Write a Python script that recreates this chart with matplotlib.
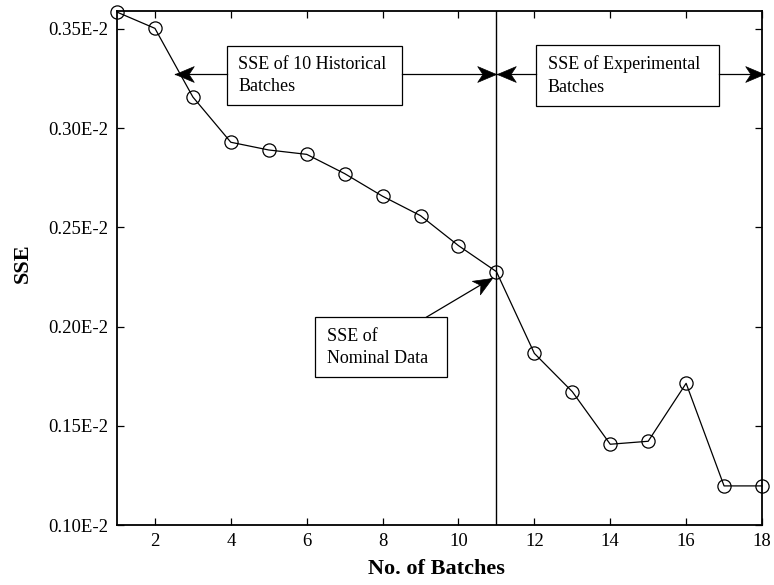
import numpy as np
import matplotlib
matplotlib.use("Agg")
import matplotlib.pyplot as plt
from matplotlib.path import Path
from matplotlib.markers import MarkerStyle
from matplotlib.transforms import Affine2D
from matplotlib.patches import Rectangle

# ---- data ----
batches = [1, 2, 3, 4, 5, 6, 7, 8, 9, 10, 11, 12, 13, 14, 15, 16, 17, 18]
sse = [0.003585, 0.003503, 0.003157, 0.002929, 0.002890, 0.002868, 0.002771,
       0.002657, 0.002559, 0.002408, 0.002277, 0.001865, 0.001672, 0.001407,
       0.001422, 0.001714, 0.001197, 0.001197]
xticks = [2, 4, 6, 8, 10, 12, 14, 16, 18]
yticks = [0.0010, 0.0015, 0.0020, 0.0025, 0.0030, 0.0035]
ytick_labels = ["0.10E-2", "0.15E-2", "0.20E-2", "0.25E-2", "0.30E-2", "0.35E-2"]
nominal_batch = 11
x_label = "No. of Batches"
y_label = "SSE"
box_hist = "SSE of 10 Historical\nBatches"
box_exp = "SSE of Experimental\nBatches"
box_nom = "SSE of\nNominal Data"

plt.rcParams['font.family'] = ['Liberation Serif', 'DejaVu Serif']

W, H = 774, 585
fig = plt.figure(figsize=(W / 100, H / 100), dpi=100)
L, R, B, T = 117, 762, 525, 10.7
ax = fig.add_axes([L / W, 1 - B / H, (R - L) / W, (B - T) / H])

ax.plot(batches, sse, color='black', lw=0.9, marker='o', ms=9.5,
        mfc='none', mec='black', mew=0.9, zorder=3, clip_on=False)
ax.axvline(nominal_batch, color='black', lw=1.0, zorder=2)

ax.set_xlim(1, 18)
ax.set_ylim(0.0010, 0.003592)
ax.set_xticks(xticks)
ax.set_xticklabels([str(t) for t in xticks])
ax.set_yticks(yticks)
ax.set_yticklabels(ytick_labels)
ax.tick_params(direction='in', length=5, width=0.9, top=True, right=True,
               labelsize=13.5, colors='black')
ax.tick_params(axis='y', pad=6)
ax.tick_params(axis='x', pad=6)
for s in ax.spines.values():
    s.set_linewidth(1.3)

ax.set_xlabel(x_label, fontsize=16, fontweight='bold')
ax.xaxis.set_label_coords(0.496, -0.066)
ax.set_ylabel(y_label, fontsize=16, fontweight='bold')
ax.yaxis.set_label_coords(-0.130, 0.51)

# stealth arrowhead marker (tip at origin, pointing +x)
head_path = Path([(0, 0), (-1.0, 0.42), (-0.72, 0), (-1.0, -0.42), (0, 0)],
                 [Path.MOVETO, Path.LINETO, Path.LINETO, Path.LINETO, Path.CLOSEPOLY])


def arrow(x0, y0, x1, y1):
    ax.plot([x0, x1], [y0, y1], color='black', lw=0.9, clip_on=False, zorder=4)
    p0 = ax.transData.transform((x0, y0))
    p1 = ax.transData.transform((x1, y1))
    ang = np.degrees(np.arctan2(p1[1] - p0[1], p1[0] - p0[0]))
    m = MarkerStyle(head_path, transform=Affine2D().rotate_deg(ang))
    ax.plot([x1], [y1], marker=m, ms=27, color='black', mec='black',
            mew=0.5, clip_on=False, zorder=5)


def box(x0, x1, y0, y1, tx, text):
    ax.add_patch(Rectangle((x0, y0), x1 - x0, y1 - y0, fill=True, fc='white',
                           ec='black', lw=0.9, zorder=4, clip_on=False))
    ax.text(tx, (y0 + y1) / 2, text, ha='left', va='center', fontsize=13,
            linespacing=1.4, zorder=6)


# Historical box
box(3.90, 8.51, 0.003117, 0.003414, 4.19, box_hist)
arrow(3.90, 0.003273, 2.53, 0.003273)
arrow(8.51, 0.003273, 10.99, 0.003273)

# Experimental box
box(12.04, 16.87, 0.003112, 0.003419, 12.36, box_exp)
arrow(12.04, 0.003273, 11.01, 0.003273)
arrow(16.87, 0.003273, 18.05, 0.003273)

# Nominal box
box(6.22, 9.69, 0.001744, 0.002048, 6.53, box_nom)
arrow(9.16, 0.002048, 10.876, 0.002243)

fig.savefig("out.png", dpi=100)
